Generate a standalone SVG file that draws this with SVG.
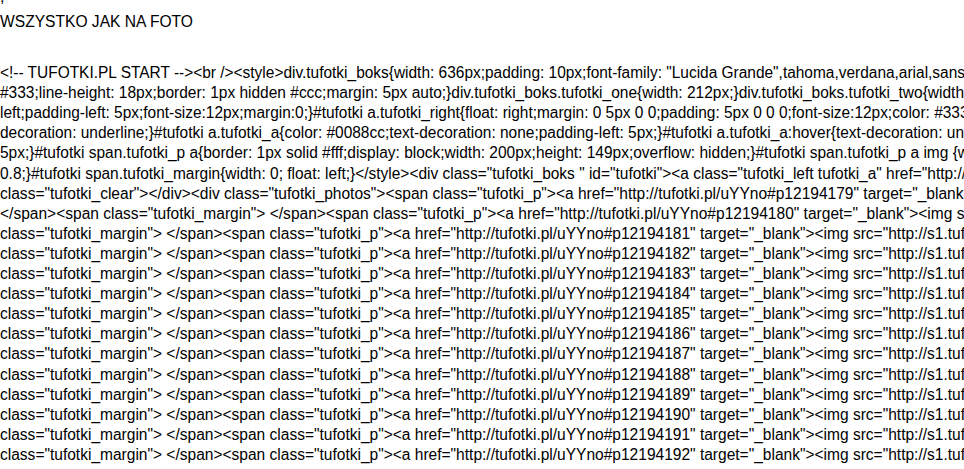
<svg xmlns="http://www.w3.org/2000/svg" width="964" height="469" viewBox="0 0 964 469">
<style>
text{font-family:"Liberation Sans",Arial,sans-serif;font-size:16px;fill:#000;white-space:pre}
</style>
<rect width="964" height="469" fill="#fff"/>
<g id="page">
<text x="0" y="1.5">,</text>
<text x="0" y="27" textLength="193" lengthAdjust="spacingAndGlyphs">WSZYSTKO JAK NA FOTO</text>
<text x="0" y="78" textLength="965" lengthAdjust="spacingAndGlyphs">&lt;!-- TUFOTKI.PL START --&gt;&lt;br /&gt;&lt;style&gt;div.tufotki_boks{width: 636px;padding: 10px;font-family: "Lucida Grande",tahoma,verdana,arial,sans</text>
<text x="0" y="98.1" textLength="964" lengthAdjust="spacingAndGlyphs">#333;line-height: 18px;border: 1px hidden #ccc;margin: 5px auto;}div.tufotki_boks.tufotki_one{width: 212px;}div.tufotki_boks.tufotki_two{width</text>
<text x="0" y="118.2" textLength="968.5" lengthAdjust="spacingAndGlyphs">left;padding-left: 5px;font-size:12px;margin:0;}#tufotki a.tufotki_right{float: right;margin: 0 5px 0 0;padding: 5px 0 0 0;font-size:12px;color: #333</text>
<text x="0" y="138.3" textLength="964" lengthAdjust="spacingAndGlyphs">decoration: underline;}#tufotki a.tufotki_a{color: #0088cc;text-decoration: none;padding-left: 5px;}#tufotki a.tufotki_a:hover{text-decoration: un</text>
<text x="0" y="158.4" textLength="969" lengthAdjust="spacingAndGlyphs">5px;}#tufotki span.tufotki_p a{border: 1px solid #fff;display: block;width: 200px;height: 149px;overflow: hidden;}#tufotki span.tufotki_p a img {w</text>
<text x="0" y="178.5" textLength="966" lengthAdjust="spacingAndGlyphs">0.8;}#tufotki span.tufotki_margin{width: 0; float: left;}&lt;/style&gt;&lt;div class="tufotki_boks " id="tufotki"&gt;&lt;a class="tufotki_left tufotki_a" href="http://</text>
<text x="0" y="198.6" textLength="963.5" lengthAdjust="spacingAndGlyphs">class="tufotki_clear"&gt;&lt;/div&gt;&lt;div class="tufotki_photos"&gt;&lt;span class="tufotki_p"&gt;&lt;a href="http://tufotki.pl/uYYno#p12194179" target="_blank</text>
<text x="0" y="218.7" textLength="964.5" lengthAdjust="spacingAndGlyphs">&lt;/span&gt;&lt;span class="tufotki_margin"&gt; &lt;/span&gt;&lt;span class="tufotki_p"&gt;&lt;a href="http://tufotki.pl/uYYno#p12194180" target="_blank"&gt;&lt;img s</text>
<text x="0" y="238.8" textLength="965" lengthAdjust="spacingAndGlyphs">class="tufotki_margin"&gt; &lt;/span&gt;&lt;span class="tufotki_p"&gt;&lt;a href="http://tufotki.pl/uYYno#p12194181" target="_blank"&gt;&lt;img src="http://s1.tuf</text>
<text x="0" y="258.9" textLength="965" lengthAdjust="spacingAndGlyphs">class="tufotki_margin"&gt; &lt;/span&gt;&lt;span class="tufotki_p"&gt;&lt;a href="http://tufotki.pl/uYYno#p12194182" target="_blank"&gt;&lt;img src="http://s1.tuf</text>
<text x="0" y="279" textLength="965" lengthAdjust="spacingAndGlyphs">class="tufotki_margin"&gt; &lt;/span&gt;&lt;span class="tufotki_p"&gt;&lt;a href="http://tufotki.pl/uYYno#p12194183" target="_blank"&gt;&lt;img src="http://s1.tuf</text>
<text x="0" y="299.1" textLength="965" lengthAdjust="spacingAndGlyphs">class="tufotki_margin"&gt; &lt;/span&gt;&lt;span class="tufotki_p"&gt;&lt;a href="http://tufotki.pl/uYYno#p12194184" target="_blank"&gt;&lt;img src="http://s1.tuf</text>
<text x="0" y="319.2" textLength="965" lengthAdjust="spacingAndGlyphs">class="tufotki_margin"&gt; &lt;/span&gt;&lt;span class="tufotki_p"&gt;&lt;a href="http://tufotki.pl/uYYno#p12194185" target="_blank"&gt;&lt;img src="http://s1.tuf</text>
<text x="0" y="339.3" textLength="965" lengthAdjust="spacingAndGlyphs">class="tufotki_margin"&gt; &lt;/span&gt;&lt;span class="tufotki_p"&gt;&lt;a href="http://tufotki.pl/uYYno#p12194186" target="_blank"&gt;&lt;img src="http://s1.tuf</text>
<text x="0" y="359.4" textLength="965" lengthAdjust="spacingAndGlyphs">class="tufotki_margin"&gt; &lt;/span&gt;&lt;span class="tufotki_p"&gt;&lt;a href="http://tufotki.pl/uYYno#p12194187" target="_blank"&gt;&lt;img src="http://s1.tuf</text>
<text x="0" y="379.5" textLength="965" lengthAdjust="spacingAndGlyphs">class="tufotki_margin"&gt; &lt;/span&gt;&lt;span class="tufotki_p"&gt;&lt;a href="http://tufotki.pl/uYYno#p12194188" target="_blank"&gt;&lt;img src="http://s1.tuf</text>
<text x="0" y="399.6" textLength="965" lengthAdjust="spacingAndGlyphs">class="tufotki_margin"&gt; &lt;/span&gt;&lt;span class="tufotki_p"&gt;&lt;a href="http://tufotki.pl/uYYno#p12194189" target="_blank"&gt;&lt;img src="http://s1.tuf</text>
<text x="0" y="419.7" textLength="965" lengthAdjust="spacingAndGlyphs">class="tufotki_margin"&gt; &lt;/span&gt;&lt;span class="tufotki_p"&gt;&lt;a href="http://tufotki.pl/uYYno#p12194190" target="_blank"&gt;&lt;img src="http://s1.tuf</text>
<text x="0" y="439.8" textLength="965" lengthAdjust="spacingAndGlyphs">class="tufotki_margin"&gt; &lt;/span&gt;&lt;span class="tufotki_p"&gt;&lt;a href="http://tufotki.pl/uYYno#p12194191" target="_blank"&gt;&lt;img src="http://s1.tuf</text>
<text x="0" y="459.9" textLength="965" lengthAdjust="spacingAndGlyphs">class="tufotki_margin"&gt; &lt;/span&gt;&lt;span class="tufotki_p"&gt;&lt;a href="http://tufotki.pl/uYYno#p12194192" target="_blank"&gt;&lt;img src="http://s1.tuf</text>
</g>
</svg>
